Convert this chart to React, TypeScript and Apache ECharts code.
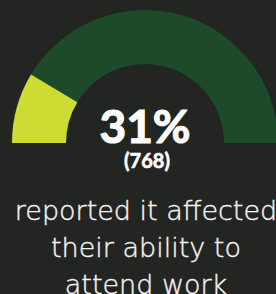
import React, { useEffect, useRef } from "react";
import * as echarts from "echarts";

const percentLabel = "31%";
const countLabel = "(768)";
const captionLines = ["reported it affected", "their ability to", "attend work"];
// The arc in the picture spans ~31 of 180 degrees
const gaugeValue = 31;
const gaugeMax = 180;

export default function App() {
  const ref = useRef<HTMLDivElement>(null);
  useEffect(() => {
    document.body.style.margin = "0";
    const chart = echarts.init(ref.current!, null, { renderer: "svg" });
    chart.setOption({
      animation: false,
      backgroundColor: "#232523",
      series: [
        {
          type: "gauge",
          center: [145, 143],
          radius: 133,
          startAngle: 180,
          endAngle: 0,
          min: 0,
          max: gaugeMax,
          pointer: { show: false },
          axisTick: { show: false },
          splitLine: { show: false },
          axisLabel: { show: false },
          anchor: { show: false },
          title: { show: false },
          detail: { show: false },
          axisLine: { lineStyle: { width: 54, color: [[1, "#1d4a28"]] } },
          progress: { show: true, width: 54, itemStyle: { color: "#cddb33" } },
          data: [{ value: gaugeValue }],
        },
      ],
      graphic: [
        {
          type: "text",
          x: 145,
          y: 125,
          style: {
            text: percentLabel,
            fill: "#ffffff",
            stroke: "#ffffff",
            lineWidth: 1.2,
            font: "bold 46px Lato",
            lineHeight: 42,
            align: "center",
            verticalAlign: "middle",
          },
        },
        {
          type: "text",
          x: 147,
          y: 160,
          style: {
            text: countLabel,
            fill: "#ffffff",
            stroke: "#ffffff",
            lineWidth: 0.6,
            font: "bold 20px Lato",
            lineHeight: 20,
            align: "center",
            verticalAlign: "middle",
          },
        },
        ...captionLines.map((line, i) => ({
          type: "text",
          x: 146,
          y: 210 + i * 37,
          style: {
            text: line,
            fill: "#f4f4f4",
            stroke: "#f4f4f4",
            lineWidth: 0.4,
            font: "200 27px 'DejaVu Sans'",
            lineHeight: 30,
            align: "center",
            verticalAlign: "middle",
          },
        })),
      ],
    });
    return () => chart.dispose();
  }, []);
  return <div ref={ref} style={{ width: 276, height: 294 }} />;
}
